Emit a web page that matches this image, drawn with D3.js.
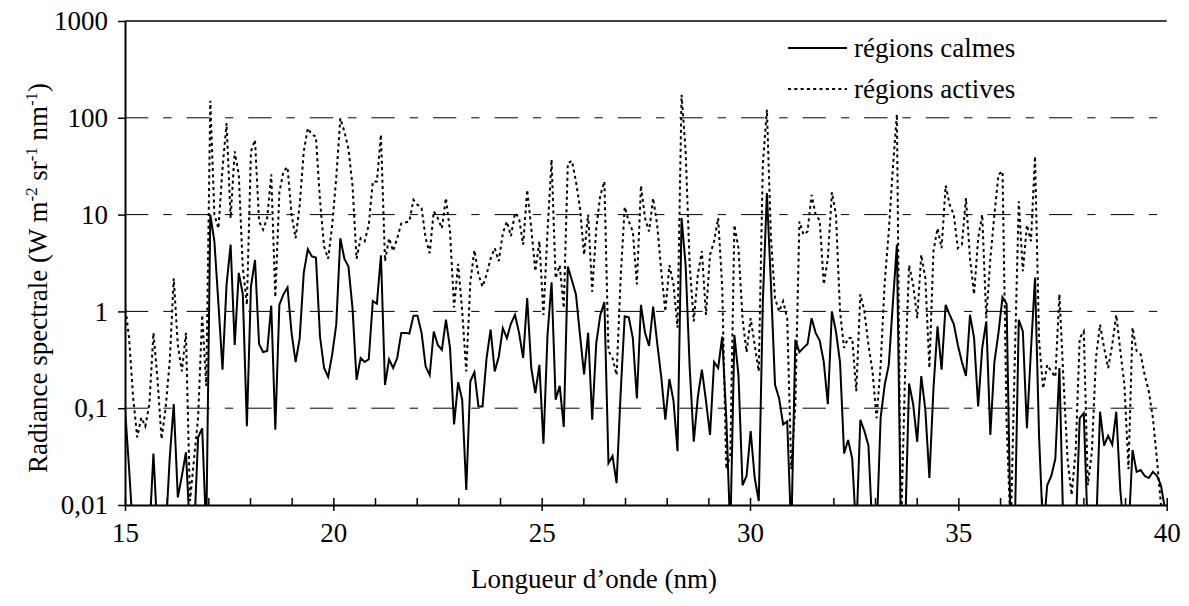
<!DOCTYPE html>
<html><head><meta charset="utf-8">
<script src="https://cdn.jsdelivr.net/npm/d3@7"></script>
<style>
body{margin:0;background:#fff;}
svg{display:block;}
svg text{font-family:'Liberation Serif','Tinos','Times New Roman',Times,'DejaVu Serif','Noto Serif',serif !important;}
</style></head><body>
<svg id="chart" width="1189" height="606"></svg>
<script>
// wavelength grid (nm): first point and sampling step
const startWavelength = 15;
const stepWavelength = 0.0975;

// "régions calmes" (values < 0.01 are off-scale low)
const calmes = [
0.1,0.024,0.005,0.005,0.005,0.005,0.005,0.034,0.005,0.005,
0.005,0.03,0.11,0.012,0.02,0.035,0.005,0.005,0.05,0.062,
0.005,10,5.3,1.2,0.25,1.9,4.9,0.45,2.5,1.5,
0.065,1.8,3.4,0.46,0.38,0.39,1.15,0.06,1.17,1.5,
1.77,0.6,0.30,0.53,2.5,4.4,3.7,3.6,0.55,0.26,
0.21,0.36,0.73,5.7,3.5,2.9,1.08,0.196,0.33,0.30,
0.32,1.28,1.2,3.8,0.174,0.32,0.26,0.33,0.6,0.6,
0.59,0.9,0.9,0.6,0.27,0.22,0.62,0.45,0.4,0.82,
0.42,0.068,0.185,0.122,0.0143,0.19,0.235,0.104,0.104,0.33,
0.65,0.24,0.34,0.67,0.53,0.75,0.92,0.6,0.33,1.37,
0.26,0.143,0.28,0.043,0.57,2.0,0.122,0.17,0.064,2.9,
2.1,1.5,0.57,0.224,0.6,0.076,0.47,0.92,1.25,0.027,
0.032,0.0168,0.143,0.89,0.87,0.53,0.126,1.17,0.6,0.44,
1.12,0.47,0.21,0.076,0.2,0.12,0.036,9.2,3.0,0.26,
0.045,0.13,0.25,0.12,0.053,0.3,0.26,0.55,0.08,0.005,
0.57,0.22,0.016,0.02,0.058,0.019,0.011,1.26,16.7,1.88,
0.174,0.127,0.068,0.073,0.005,0.51,0.38,0.42,0.46,0.85,
0.6,0.5,0.3,0.11,1.0,0.62,0.3,0.034,0.047,0.03,
0.005,0.076,0.058,0.041,0.005,0.005,0.08,0.174,0.28,1.2,
4.9,0.005,0.005,0.18,0.11,0.045,0.215,0.096,0.019,0.16,
0.7,0.25,1.17,0.92,0.74,0.45,0.3,0.215,0.92,0.53,
0.104,0.42,0.79,0.053,0.3,0.6,1.4,1.2,0.005,0.005,
0.82,0.62,0.062,0.4,2.24,0.05,0.005,0.016,0.02,0.03,
0.26,0.005,0.005,0.005,0.005,0.079,0.089,0.005,0.005,0.005,
0.092,0.041,0.052,0.042,0.092,0.014,0.005,0.005,0.037,0.022,
0.023,0.02,0.019,0.022,0.02,0.016,0.009
];

// "régions actives"
const actives = [
1.2,0.53,0.13,0.05,0.08,0.065,0.11,0.6,0.2,0.048,
0.1,0.3,2.2,0.45,0.24,0.6,0.011,0.03,0.08,0.92,
0.17,150,10,7.2,30,88,9.2,45,26,2.8,
1.17,45,59,8.5,7.0,9.2,26,1.4,17,28,
31,10,5.7,12.6,45,78,67,64,14,4.7,
3.5,7.8,24,99,72,48,20,3.5,5.7,5.3,
7.8,22,22,67,3.3,5.7,4.2,5.7,8.1,8.3,
8.5,14.2,12.6,11.7,5.7,4.0,10.8,9.2,7.2,14.8,
6.7,1.1,3.1,1.0,0.24,2.0,4.3,2.4,1.8,2.4,
3.5,4.5,3.3,6.4,8.5,6.0,10.4,9.2,4.9,18,
7.2,2.6,5.3,0.92,6.7,37,2.2,3.0,1.08,34,
36,22,11.7,3.85,10,1.6,7.2,15.8,22,0.39,
0.33,0.22,2.2,12,8.5,6.7,1.9,20,9.2,6.7,
14.8,7.8,2.6,1.0,3.0,1.9,0.68,173,45,3,
0.79,2.4,4.2,0.92,3.85,5.3,9.2,1.8,0.0235,0.033,
7.8,4.5,0.85,0.38,0.85,0.45,0.24,33,121,5.7,
1.37,1.0,1.27,0.85,0.0235,0.107,8.5,6.2,6.7,16,
10,8.7,1.9,3.5,17,10,1.0,0.42,0.53,0.53,
0.15,1.5,1.0,0.45,0.24,0.079,0.28,2.0,6.7,30,
109,0.005,0.22,3.0,1.9,0.85,3.85,2.2,0.26,4.2,
7.2,4.5,20,12.6,10,4.5,4.9,14.8,3.5,1.5,
5.7,10,0.85,3.5,10,26,28,0.073,0.005,0.3,
13.7,2.6,7.8,5.3,40,0.5,0.16,0.28,0.24,0.21,
1.5,0.2,0.03,0.0127,0.036,0.53,0.62,0.016,0.036,0.33,
0.73,0.42,0.26,0.45,0.92,0.39,0.174,0.0235,0.68,0.39,
0.36,0.22,0.15,0.08,0.03,0.01,0.005
];

const xTickLabels = [15, 20, 25, 30, 35, 40];
const xMinorTicks = d3.range(15, 41, 1);
const yTickValues = [0.01, 0.1, 1, 10, 100, 1000];
const yTickLabels = ["0,01", "0,1", "1", "10", "100", "1000"];
const gridValues = [0.1, 1, 10, 100];
const seriesNames = ["régions calmes", "régions actives"];
const xTitle = "Longueur d’onde (nm)";

const wavelengths = calmes.map((_, i) => startWavelength + i * stepWavelength);

const L = 125, R = 1166.7, T = 21, B = 505;
const FS = 27;
const FONT = "'Liberation Serif','Tinos','Times New Roman',Times,'DejaVu Serif','Noto Serif',serif";
const svg = d3.select("#chart");
const x = d3.scaleLinear().domain([15, 40]).range([L, R]);
const y = d3.scaleLog().domain([0.01, 1000]).range([B, T]);

svg.append("defs").append("clipPath").attr("id", "plotclip")
  .append("rect").attr("x", L).attr("y", T - 2).attr("width", R - L).attr("height", B - T + 2);

// grid
svg.append("g").selectAll("line").data(gridValues).join("line")
  .attr("x1", L).attr("x2", R)
  .attr("y1", d => y(d)).attr("y2", d => y(d))
  .attr("stroke", "#000").attr("stroke-width", 1)
  .attr("stroke-dasharray", "23.3,15,8.3,15");
svg.append("line").attr("x1", L).attr("x2", R).attr("y1", y(1000)).attr("y2", y(1000))
  .attr("stroke", "#000").attr("stroke-width", 1.3);

// series
const line = d3.line().x((d, i) => x(wavelengths[i])).y(d => y(d));
const gS = svg.append("g").attr("clip-path", "url(#plotclip)");
gS.append("path").datum(actives).attr("d", line)
  .attr("fill", "none").attr("stroke", "#000").attr("stroke-width", 2)
  .attr("stroke-dasharray", "3,3.3");
gS.append("path").datum(calmes).attr("d", line)
  .attr("fill", "none").attr("stroke", "#000").attr("stroke-width", 2);

// y axis
const yAxis = d3.axisLeft(y).tickValues(yTickValues)
  .tickFormat((d, i) => yTickLabels[i]).tickSize(7).tickSizeOuter(0).tickPadding(10);
const gy = svg.append("g").attr("transform", `translate(${L},0)`).call(yAxis)
  .attr("font-family", FONT).attr("font-size", FS);
gy.select(".domain").attr("stroke", "#000").attr("stroke-width", 2);
gy.selectAll(".tick line").attr("stroke-width", 1.5);
gy.selectAll("text").attr("fill", "#000");

// x axis
const xAxis = d3.axisBottom(x).tickValues(xTickLabels).tickSize(6).tickSizeOuter(0).tickPadding(12);
const gx = svg.append("g").attr("transform", `translate(0,${B})`).call(xAxis)
  .attr("font-family", FONT).attr("font-size", FS);
gx.select(".domain").attr("stroke", "#000").attr("stroke-width", 2);
gx.selectAll(".tick line").attr("stroke-width", 1.5);
gx.selectAll("text").attr("fill", "#000");
const xMinor = d3.axisBottom(x).tickValues(xMinorTicks).tickSize(-7).tickSizeOuter(0).tickFormat("");
const gxm = svg.append("g").attr("transform", `translate(0,${B})`).call(xMinor);
gxm.select(".domain").remove();
gxm.selectAll(".tick line").attr("stroke-width", 1.5);

// titles
svg.append("text").attr("x", 594).attr("y", 588).attr("text-anchor", "middle")
  .attr("font-family", FONT).attr("font-size", FS).text(xTitle);
const yt = svg.append("text").attr("transform", "translate(47,278) rotate(-90)")
  .attr("text-anchor", "middle").attr("font-family", FONT).attr("font-size", FS);
yt.append("tspan").text("Radiance spectrale (W m");
yt.append("tspan").attr("font-size", FS * 0.62).attr("dy", -10).text("-2");
yt.append("tspan").attr("dy", 10).text(" sr");
yt.append("tspan").attr("font-size", FS * 0.62).attr("dy", -10).text("-1");
yt.append("tspan").attr("dy", 10).text(" nm");
yt.append("tspan").attr("font-size", FS * 0.62).attr("dy", -10).text("-1");
yt.append("tspan").attr("dy", 10).text(")");

// legend
const legY = [48, 89];
const lg = svg.append("g");
seriesNames.forEach((name, i) => {
  lg.append("line").attr("x1", 788).attr("x2", 847).attr("y1", legY[i]).attr("y2", legY[i])
    .attr("stroke", "#000").attr("stroke-width", 2)
    .attr("stroke-dasharray", i === 1 ? "3,3.3" : null);
  lg.append("text").attr("x", 854).attr("y", legY[i] + 9)
    .attr("font-family", FONT).attr("font-size", FS).text(name);
});
</script>
</body></html>
